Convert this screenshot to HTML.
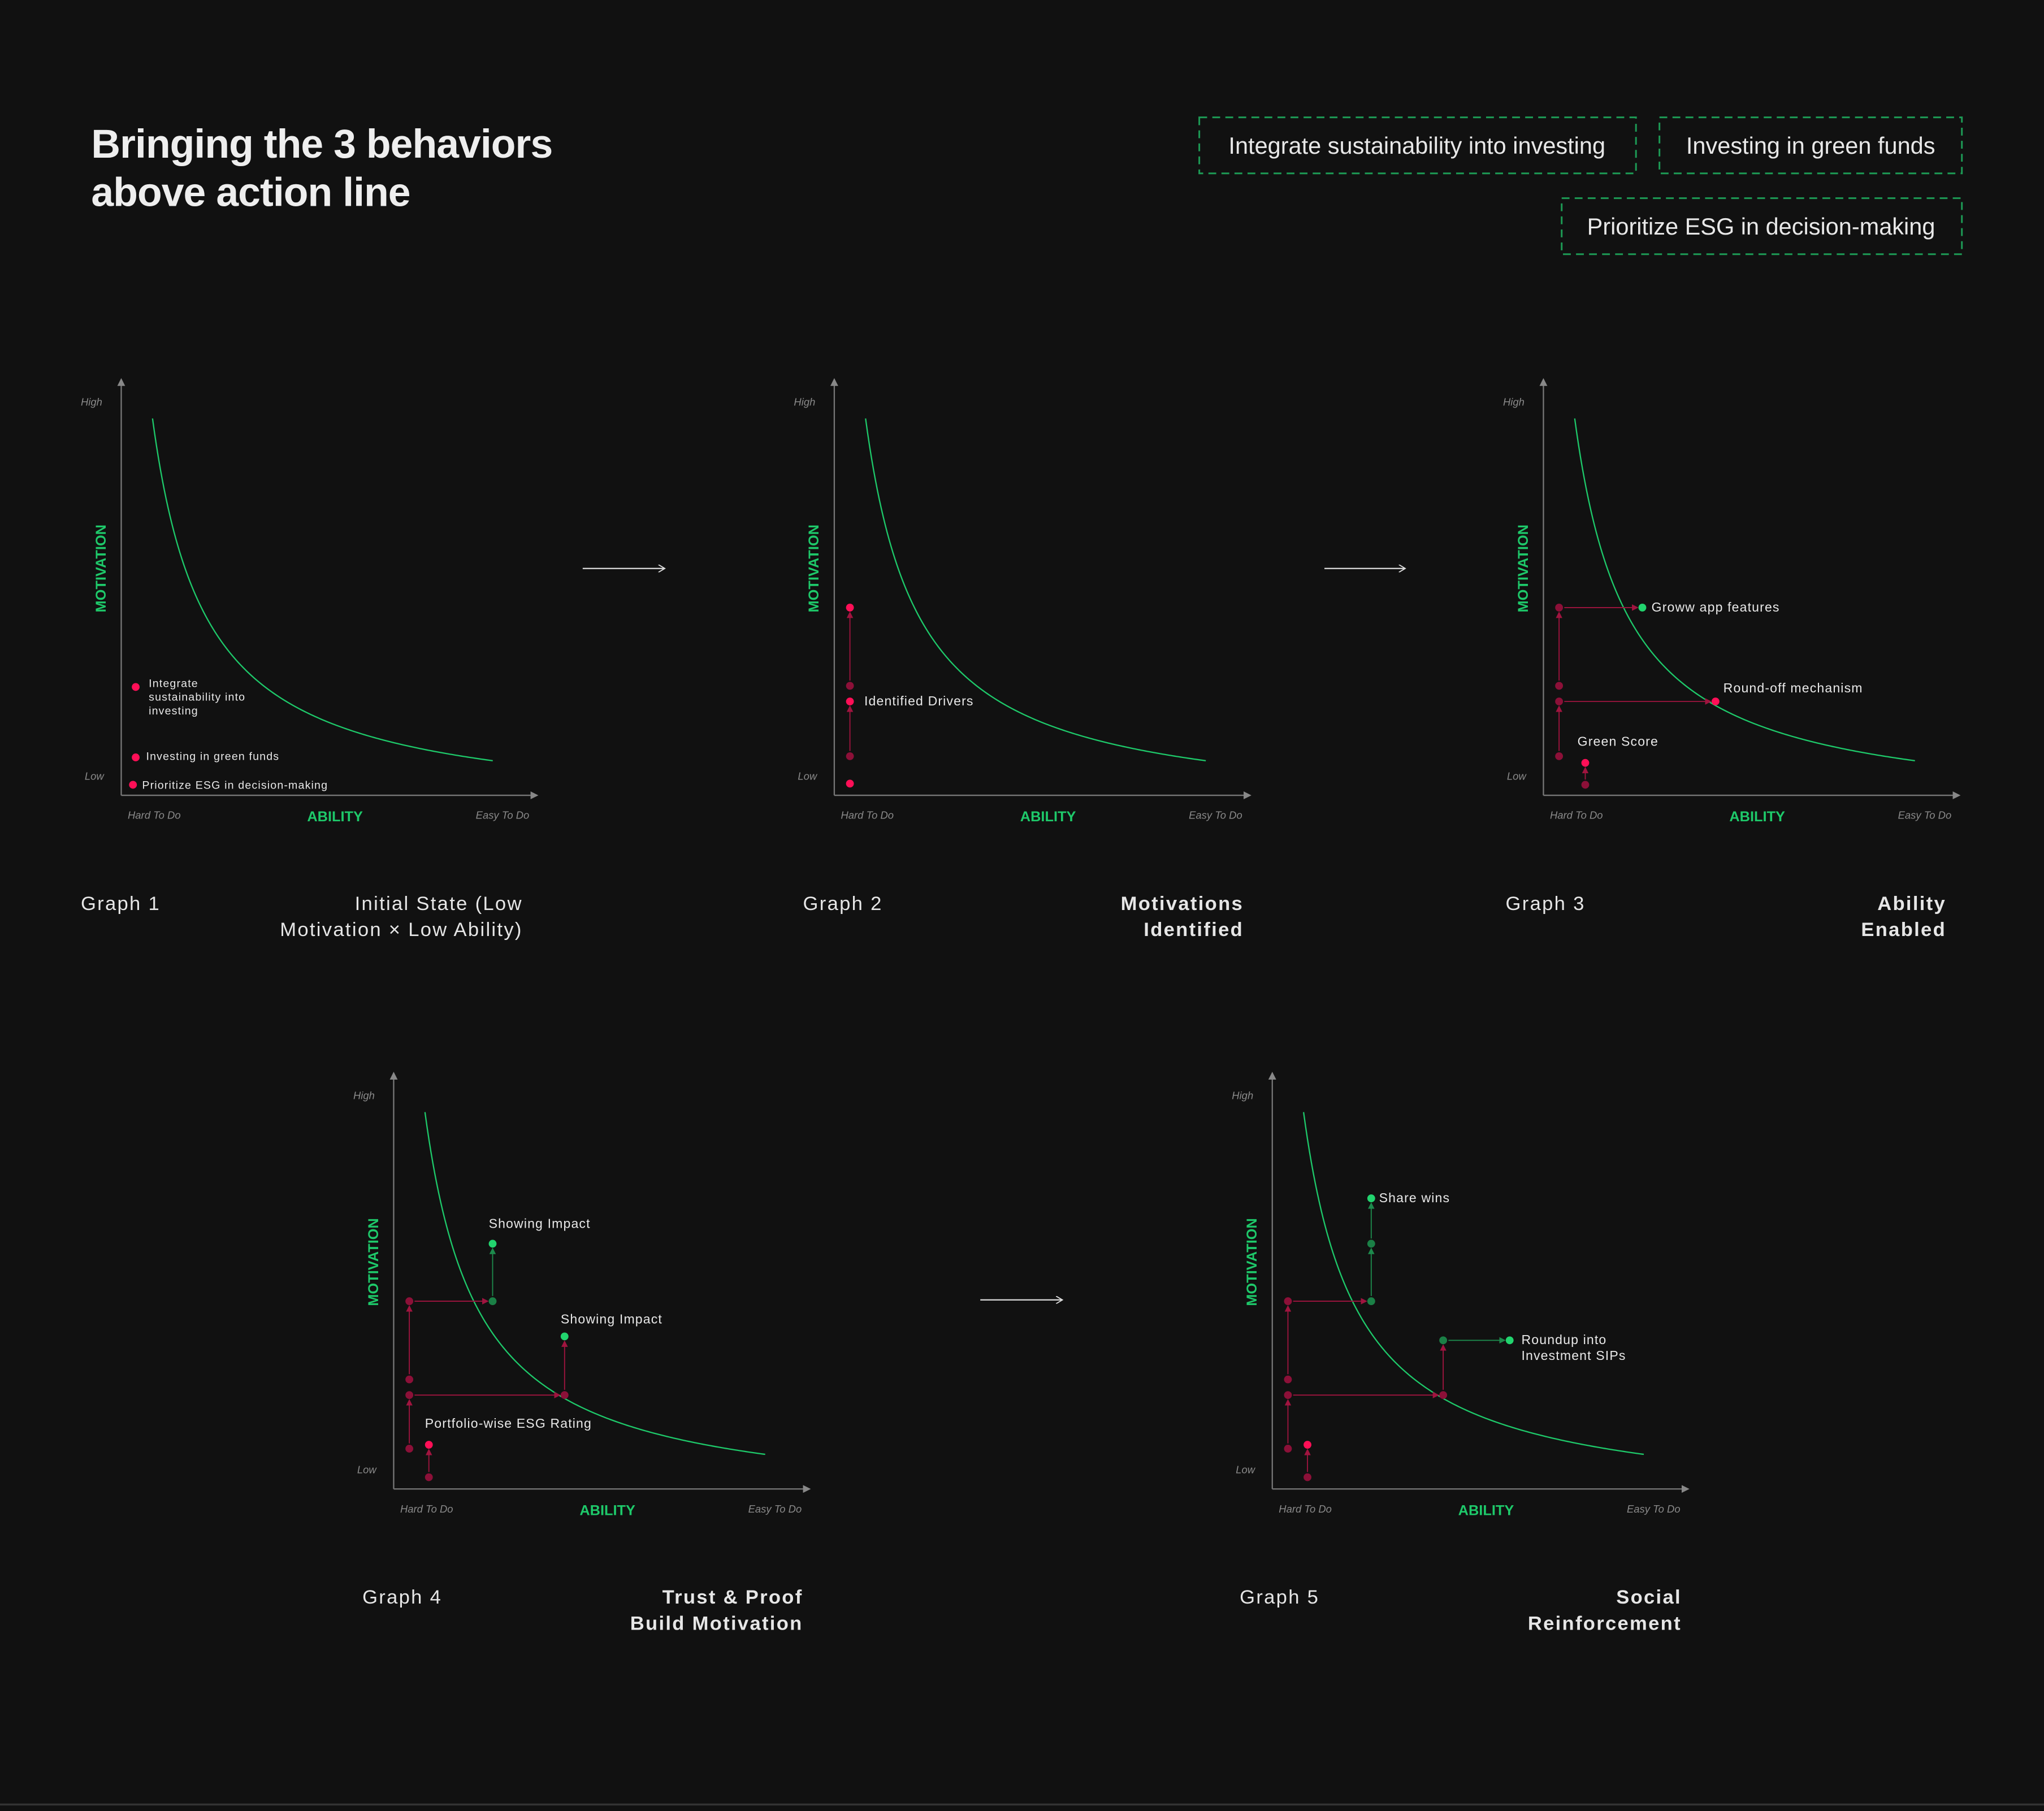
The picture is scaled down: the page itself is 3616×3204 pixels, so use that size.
<!DOCTYPE html>
<html><head><meta charset="utf-8"><style>
html,body{margin:0;padding:0;background:#111111;}
svg{display:block;font-family:"Liberation Sans",sans-serif;}
</style></head><body>
<svg id="root" width="3616" height="3204" viewBox="0 0 1568 1389" preserveAspectRatio="none" xmlns="http://www.w3.org/2000/svg">
<rect width="1568" height="1389" fill="#111111"/>
<defs>
<marker id="ahW" markerWidth="6" markerHeight="6" refX="5" refY="3" orient="auto" markerUnits="userSpaceOnUse"><path d="M0,0 L5,3 L0,6" fill="none" stroke="#ddd" stroke-width="0.8"/></marker>
<marker id="ahG" markerWidth="6" markerHeight="6" refX="5" refY="3" orient="auto" markerUnits="userSpaceOnUse"><path d="M0,0 L6,3 L0,6 Z" fill="#888"/></marker>
<marker id="ahR" markerWidth="5" markerHeight="5" refX="4" refY="2.5" orient="auto" markerUnits="userSpaceOnUse"><path d="M0,0 L5,2.5 L0,5 Z" fill="#a0143f"/></marker>
<marker id="ahN" markerWidth="5" markerHeight="5" refX="4" refY="2.5" orient="auto" markerUnits="userSpaceOnUse"><path d="M0,0 L5,2.5 L0,5 Z" fill="#1d8a4c"/></marker>
</defs>
<g fill="#eeeeee" font-weight="bold" font-size="31" letter-spacing="-0.4">
<text x="70" y="121">Bringing the 3 behaviors</text>
<text x="70" y="158">above action line</text>
</g>
<g font-size="18" fill="#e8e8e8">
<rect x="920" y="90" width="335" height="43" fill="none" stroke="#1d9a55" stroke-width="1.3" stroke-dasharray="6,4"/>
<text x="1087" y="118" text-anchor="middle">Integrate sustainability into investing</text>
<rect x="1273" y="90" width="232" height="43" fill="none" stroke="#1d9a55" stroke-width="1.3" stroke-dasharray="6,4"/>
<text x="1389" y="118" text-anchor="middle">Investing in green funds</text>
<rect x="1198" y="152" width="307" height="43" fill="none" stroke="#1d9a55" stroke-width="1.3" stroke-dasharray="6,4"/>
<text x="1351" y="180" text-anchor="middle">Prioritize ESG in decision-making</text>
</g>
<line x1="0" y1="1384" x2="1568" y2="1384" stroke="#333" stroke-width="1.5"/>
<g id="charts"></g>
</svg>
<script>
const graphOrigins = [[93,610],[640,610],[1184,610],[302,1142],[976,1142]];
const captionOffsets = [-31,-24,-29,-24,-25];
const titleOffsets = [308,314,309,314,314];
const graphCaptions = ["Graph 1","Graph 2","Graph 3","Graph 4","Graph 5"];
const graphTitles = [["Initial State (Low","Motivation × Low Ability)"],["Motivations","Identified"],["Ability","Enabled"],["Trust & Proof","Build Motivation"],["Social","Reinforcement"]];

// Graph 1
const g1Ability = [3.7, 3.7, 3];
const g1Motivation = [27.7, 9.7, 2.7];
const g1Kind = ["b","b","b"];
const g1Arrows = [];
// Graph 2
const g2Ability = [4, 4, 4, 4, 4];
const g2Motivation = [48, 28, 24, 10, 3];
const g2Kind = ["b","d","b","d","b"];
const g2Arrows = [[3,2],[1,0]];
// Graph 3
const g3Ability = [4, 25.3, 4, 4, 44, 4, 10.7, 10.7];
const g3Motivation = [48, 48, 28, 24, 24, 10, 8.3, 2.7];
const g3Kind = ["d","g","d","d","b","d","b","d"];
const g3Arrows = [[0,1],[3,4],[5,3],[2,0],[7,6]];
// Graph 4
const g4Ability = [4, 25.3, 25.3, 4, 4, 43.7, 43.7, 4, 9, 9];
const g4Motivation = [48, 48, 62.7, 28, 24, 24, 39, 10.3, 11.3, 3];
const g4Kind = ["d","n","g","d","d","d","g","d","b","d"];
const g4Arrows = [[0,1],[1,2],[3,0],[4,5],[5,6],[7,4],[9,8]];
// Graph 5
const g5Ability = [4, 25.3, 25.3, 25.3, 4, 4, 43.7, 43.7, 60.7, 4, 9, 9];
const g5Motivation = [48, 48, 62.7, 74.3, 28, 24, 24, 38, 38, 10.3, 11.3, 3];
const g5Kind = ["d","n","n","g","d","d","d","n","g","d","b","d"];
const g5Arrows = [[0,1],[1,2],[2,3],[4,0],[5,6],[6,7],[7,8],[9,5],[11,10]];

const graphs = [
 {a:g1Ability,m:g1Motivation,k:g1Kind,ar:g1Arrows,labels:[[0,10,0,["Integrate","sustainability into","investing"],8.5],[1,8,2,["Investing in green funds"],8.5],[2,7,3,["Prioritize ESG in decision-making"],8.5]]},
 {a:g2Ability,m:g2Motivation,k:g2Kind,ar:g2Arrows,labels:[[2,11,3,["Identified Drivers"],10]]},
 {a:g3Ability,m:g3Motivation,k:g3Kind,ar:g3Arrows,labels:[[1,7,3,["Groww app features"],10],[4,6,-7,["Round-off mechanism"],10],[6,-6,-13,["Green Score"],10]]},
 {a:g4Ability,m:g4Motivation,k:g4Kind,ar:g4Arrows,labels:[[2,-3,-12,["Showing Impact"],10],[6,-3,-10,["Showing Impact"],10],[8,-3,-13,["Portfolio-wise ESG Rating"],10]]},
 {a:g5Ability,m:g5Motivation,k:g5Kind,ar:g5Arrows,labels:[[3,6,3,["Share wins"],10],[8,9,3,["Roundup into","Investment SIPs"],10]]}
];
const colors = {b:"#ff0f57", d:"#8c1038", g:"#22d46e", n:"#1b8046"};
const NS = "http://www.w3.org/2000/svg";
const root = document.getElementById('charts');
function el(tag, attrs, parent){const e=document.createElementNS(NS,tag);for(const k in attrs)e.setAttribute(k,attrs[k]);(parent||root).appendChild(e);return e;}
const PX = 3;

graphs.forEach((g, gi) => {
  const [ox, oy] = graphOrigins[gi];
  const xs = v => ox + v * PX;
  const ys = v => oy - v * PX;
  const grp = el('g', {});
  
  
  const ya = el('line', {x1:ox, y1:oy, x2:ox, y2:oy-319, stroke:'#777', 'stroke-width':1, 'marker-end':'url(#ahG)'}, grp);
  
  
  const xa = el('line', {x1:ox, y1:oy, x2:ox+319, y2:oy, stroke:'#777', 'stroke-width':1, 'marker-end':'url(#ahG)'}, grp);
  
  
  const addT = (name, x, y, txt, attrs) => { const t = el('text', Object.assign({x:x, y:y}, attrs), grp); t.textContent = txt;   return t; };
  const axLab = {fill:'#8a8a8a', 'font-size':8, 'font-style':'italic'};
  addT('y-high-label', ox-31, oy-299, 'High', axLab);
  addT('y-low-label', ox-28, oy-12, 'Low', axLab);
  addT('x-hard-label', ox+5, oy+18, 'Hard To Do', axLab);
  addT('x-easy-label', ox+313, oy+18, 'Easy To Do', Object.assign({'text-anchor':'end'}, axLab));
  addT('x-axis-title', ox+164, oy+20, 'ABILITY', {fill:'#1ec96a','font-size':11,'font-weight':'bold','text-anchor':'middle'});
  addT('y-axis-title', 0, 0, 'MOTIVATION', {fill:'#1ec96a','font-size':11,'font-weight':'bold','text-anchor':'middle', transform:`translate(${ox-12},${oy-174}) rotate(-90)`});
  let d = '';
  for (let u = 8; u <= 95; u += 0.5) {
    const h = 12453/(u*PX + 17) - 14.7;
    d += (d ? 'L' : 'M') + xs(u).toFixed(2) + ',' + (oy - h).toFixed(2);
  }
  const curve = el('path', {d:d, fill:'none', stroke:'#1ec96a', 'stroke-width':1}, grp);
  
  
  g.ar.forEach(([f, t]) => {
    const x1 = xs(g.a[f]), y1 = ys(g.m[f]), x2 = xs(g.a[t]), y2 = ys(g.m[t]);
    const len = Math.hypot(x2-x1, y2-y1);
    const ux = (x2-x1)/len, uy = (y2-y1)/len;
    const green = g.k[f] === 'g' || g.k[f] === 'n';
    const ln = el('line', {x1:x1+ux*4, y1:y1+uy*4, x2:x2-ux*4, y2:y2-uy*4, stroke: green ? '#1d8a4c' : '#a0143f', 'stroke-width':0.8, 'marker-end': green ? 'url(#ahN)' : 'url(#ahR)'}, grp);
    
    
  });
  g.a.forEach((v, i) => {
    const c = el('circle', {cx:xs(v), cy:ys(g.m[i]), r:3, fill:colors[g.k[i]]}, grp);
    
    
  });
  g.labels.forEach(([i, dx, dy, lines, fs]) => {
    lines.forEach((ln, li) => {
      addT('point-label', xs(g.a[i]) + dx, ys(g.m[i]) + dy + li * (fs + 2), ln, {fill:'#e8e8e8', 'font-size':fs, 'letter-spacing':0.5});
    });
  });
  addT('graph-caption', ox+captionOffsets[gi], oy+88, graphCaptions[gi], {fill:'#e6e6e6','font-size':15,'letter-spacing':1});
  graphTitles[gi].forEach((ln, li) => {
    addT('graph-title', ox+titleOffsets[gi], oy+88+li*20, ln, {fill:'#e6e6e6','font-size':15,'letter-spacing':1,'font-weight': gi===0 ? 'normal':'bold','text-anchor':'end'});
  });
});
const flowArrows = [[447,436,510],[1016,436,1078],[752,997,815]];
flowArrows.forEach(([x1,y,x2]) => {
  const a = el('line', {x1:x1, y1:y, x2:x2, y2:y, stroke:'#dddddd', 'stroke-width':1, 'marker-end':'url(#ahW)'});
  
  
});
</script>
</body></html>
